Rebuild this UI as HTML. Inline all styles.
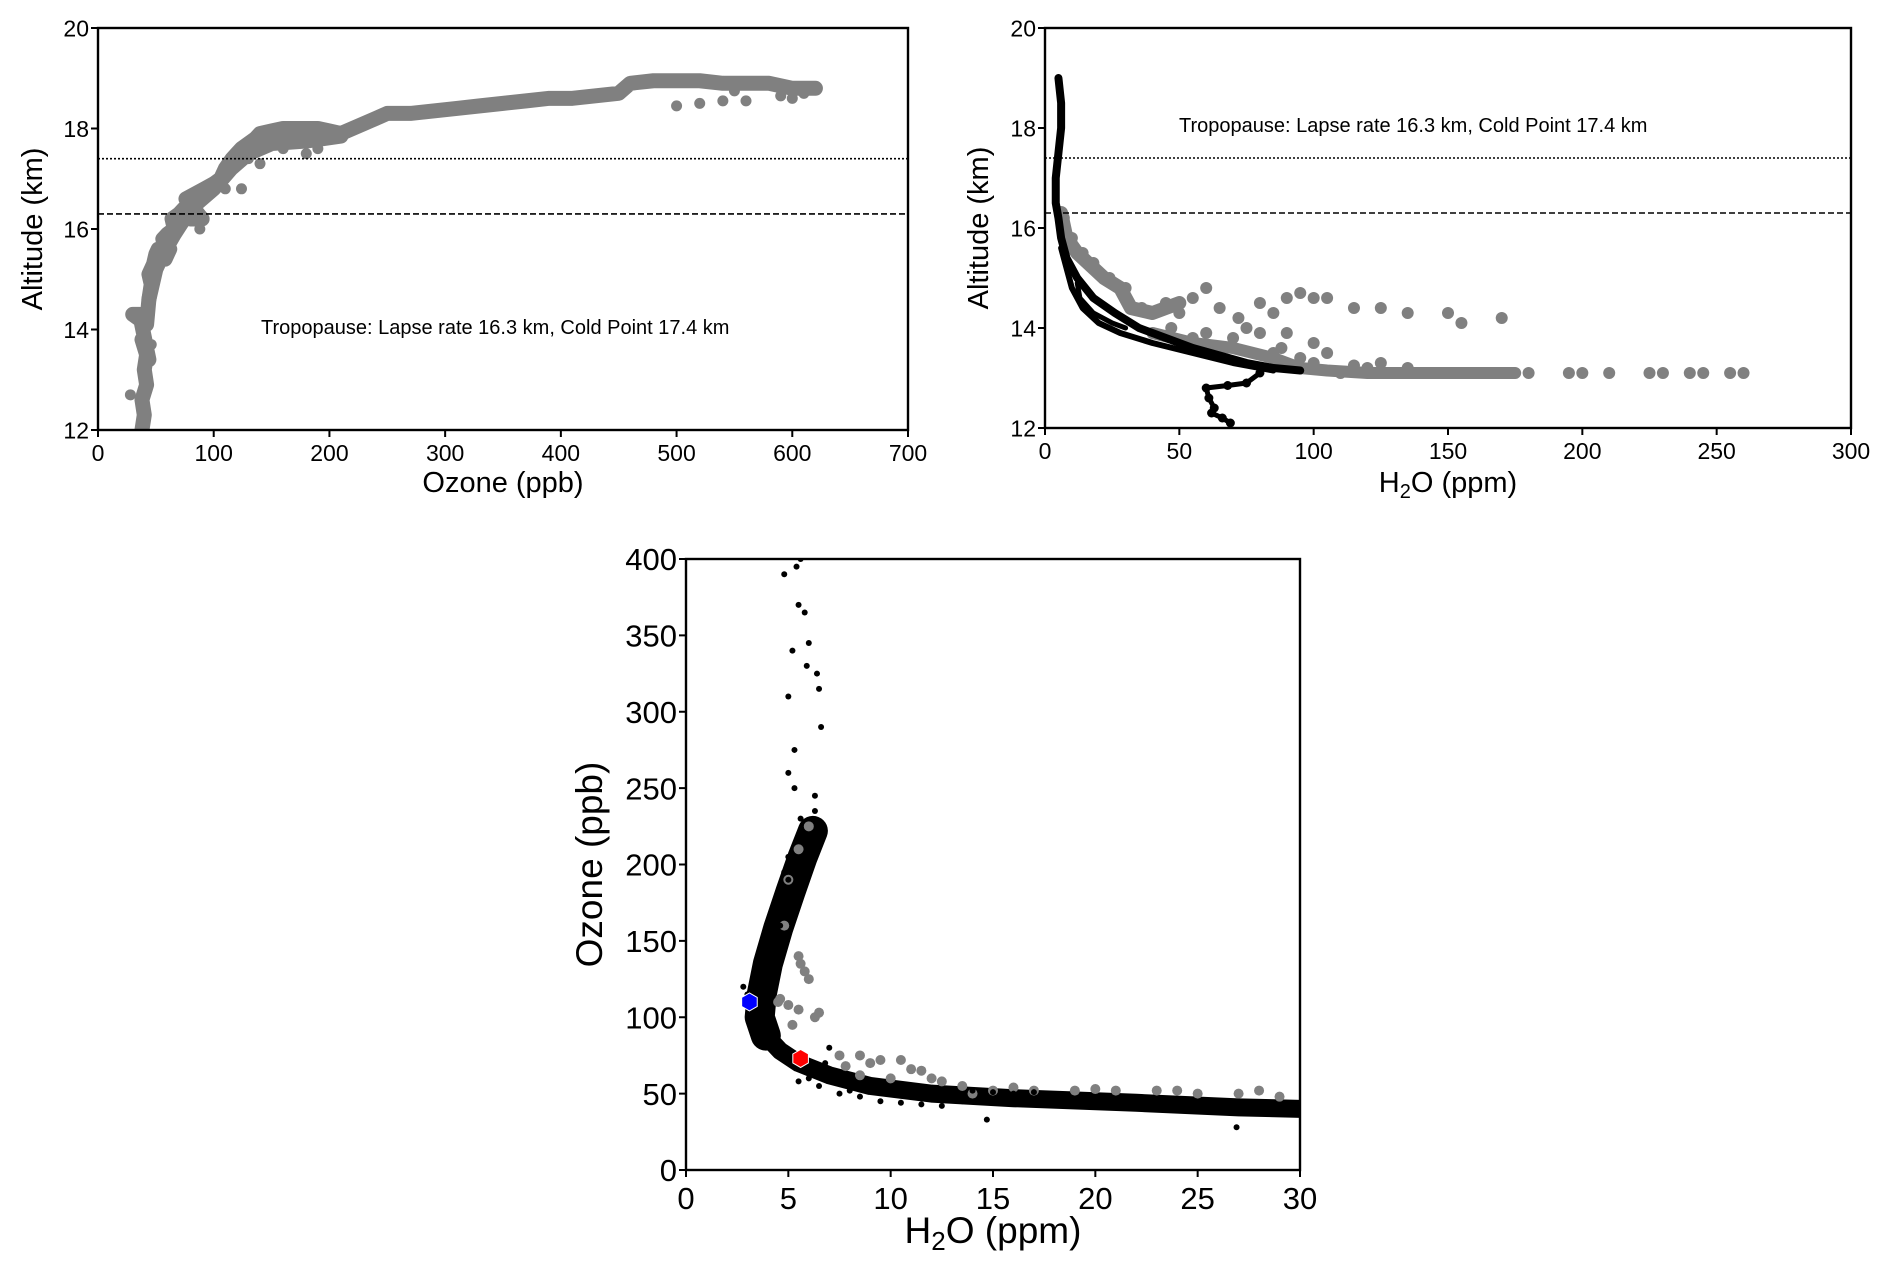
<!DOCTYPE html>
<html><head><meta charset="utf-8"><style>
html,body{margin:0;padding:0;background:#fff;}
svg{display:block;font-family:"Liberation Sans","DejaVu Sans",sans-serif;}
</style></head><body>
<svg id="fig" width="1892" height="1269" viewBox="0 0 1892 1269"></svg>
<script>
// ---- Panel 1 data: ozone (ppb) vs altitude (km)
const p1Ozone = [38,40,38,42,40,42,38,44,36,30,42,44,46,44,48,50,52,58,62,56,60,66,64,70,74,80,90,76,84,92,100,106,110,116,120,124,130,136,140,150,160,170,180,190,200,210,220,230,240,250,270,290,310,330,350,370,390,410,430,450,460,480,500,520,540,560,580,600,620];
const p1Alt   = [12.0,12.3,12.6,12.9,13.2,13.5,13.8,13.4,14.3,14.3,14.1,14.6,14.9,15.1,15.3,15.5,15.6,15.4,15.6,15.8,15.9,16.0,16.2,16.3,16.4,16.2,16.2,16.6,16.7,16.8,16.9,17.0,17.2,17.4,17.5,17.6,17.7,17.8,17.9,17.95,18.0,18.0,18.0,18.0,17.95,17.9,18.0,18.1,18.2,18.3,18.3,18.35,18.4,18.45,18.5,18.55,18.6,18.6,18.65,18.7,18.9,18.95,18.95,18.95,18.9,18.9,18.9,18.8,18.8];
const p1Band2Ozone = [44,50,56,66,80,100,115,130,150,180,210];
const p1Band2Alt   = [14.6,15.2,15.5,15.9,16.4,16.8,17.2,17.5,17.7,17.75,17.85];
const p1ExtraOzone = [500,520,540,560,590,610,130,160,190,140,110,124,88,28,46,200,180,600,610,550];
const p1ExtraAlt   = [18.45,18.5,18.55,18.55,18.65,18.7,17.4,17.6,17.6,17.3,16.8,16.8,16.0,12.7,13.7,17.8,17.5,18.6,18.75,18.75];
// ---- Panel 2 data: H2O (ppm) vs altitude (km)
const p2GrayH2O = [7,10,14,18,24,30,36,45,55,60,65,72,80,85,90,95,100,105,115,125,135,150,155,170,60,70,80,90,100,105,110,120,130,150,170,180,195,210,225,240,255,260,47,55,65,85,95,100,115,125,135,40,50,75,88,140,160,200,230,245];
const p2GrayAlt = [16.2,15.8,15.5,15.3,15.0,14.8,14.4,14.5,14.6,14.8,14.4,14.2,14.5,14.3,14.6,14.7,14.6,14.6,14.4,14.4,14.3,14.3,14.1,14.2,13.9,13.8,13.9,13.9,13.7,13.5,13.1,13.2,13.1,13.1,13.1,13.1,13.1,13.1,13.1,13.1,13.1,13.1,14.0,13.8,13.6,13.5,13.4,13.3,13.25,13.3,13.2,14.3,14.3,14.0,13.6,13.1,13.1,13.1,13.1,13.1];
const p2GrayBandH2O = [6,8,12,16,22,28,32,40,50];
const p2GrayBandAlt = [16.3,15.8,15.5,15.3,15.0,14.8,14.4,14.3,14.5];
const p2GrayBand2H2O = [40,55,70,85,95,105,120,150,175];
const p2GrayBand2Alt = [13.9,13.7,13.6,13.4,13.2,13.15,13.1,13.1,13.1];
const p2BlackH2O = [5,6,6,5,4,4,5,6,8,12,18,26,35,45,55,65,75,85,95];
const p2BlackAlt = [19.0,18.5,18.0,17.5,17.0,16.5,16.2,15.8,15.4,15.0,14.6,14.3,14.0,13.8,13.6,13.45,13.3,13.2,13.15];
const p2Black2H2O = [6,10,14,20,28,40,55,70,85];
const p2Black2Alt = [15.6,14.8,14.4,14.1,13.9,13.7,13.5,13.3,13.15];
const p2Black3H2O = [12,13,18,25,30];
const p2Black3Alt = [14.9,14.6,14.3,14.1,14.0];
const p2Black4H2O = [80,75,68,60,61,63,62,66,69];
const p2Black4Alt = [13.1,12.9,12.85,12.8,12.6,12.4,12.3,12.2,12.1];
// ---- Panel 3 data: H2O (ppm) vs ozone (ppb)
const p3BlackH2O = [5.6,5.4,4.8,5.5,5.8,5.2,6.0,5.9,6.4,5.0,6.5,6.6,5.3,5.0,5.3,6.3,6.3,5.6,6.4,5.8,6.2,5.0,5.5,4.8,5.2,4.5,4.9,4.2,4.6,4.0,3.8,4.3,3.6,3.3,3.9,3.4,3.6,4.0,4.3,4.8,5.2,5.6,6.2,6.8,7.4,6.0,5.5,6.5,7.5,8.5,9.5,10.5,11.5,12.5,13.5,14.5,15.5,16.5,17.5,18.5,19.5,20.5,21.5,22.5,23.5,24.5,25.5,26.5,27.5,28.5,29.5,30,8,9,10,11,12,13,14,15,16,17,18,20,22,24,26,28,14.7,26.9,2.8,3.0,4.6,5.0,7.0,7.3];
const p3BlackOz  = [400,395,390,370,365,340,345,330,325,310,315,290,275,260,250,245,235,230,225,215,210,205,200,195,185,180,170,165,160,150,140,130,125,115,110,100,95,88,82,78,72,68,66,70,63,60,58,55,50,48,45,44,43,42,45,48,50,47,45,44,43,44,45,43,42,41,40,39,38,39,40,38,52,54,52,50,50,51,52,51,50,51,48,46,45,44,42,41,33,28,120,115,175,190,80,60];
const p3BandUpH2O = [6.2,5.7,5.1,4.5,4.0,3.7,3.6,3.9];
const p3BandUpOz  = [222,205,182,158,135,115,100,88];
const p3BandLowH2O = [3.9,4.6,5.5,7,9,12,16,22,27,30];
const p3BandLowOz  = [88,78,70,62,55,50,47,44,41,40];
const p3GrayH2O = [6.0,5.5,5.0,4.8,5.5,5.8,4.5,5.5,6.5,5.2,7.5,8.5,9.5,10.5,11.5,12.5,13.5,15,17,19,21,23,25,27,29,8.5,10,14,5.6,6.0,5.0,4.6,6.3,7.8,9,11,12,16,20,24,28];
const p3GrayOz  = [225,210,190,160,140,130,110,105,103,95,75,75,72,72,65,58,55,52,52,52,52,52,50,50,48,62,60,50,135,125,108,112,100,68,70,66,60,54,53,52,52];
const p3Markers = [[3.1,110,'#0000ff'],[5.6,73,'#ff0000']];

const NS='http://www.w3.org/2000/svg';
const svg=document.getElementById('fig');
function el(tag,attrs,parent){const e=document.createElementNS(NS,tag);for(const k in attrs)e.setAttribute(k,attrs[k]);(parent||svg).appendChild(e);return e;}
function lin(d0,d1,r0,r1){return v=>r0+(v-d0)*(r1-r0)/(d1-d0);}

function axes(o){
  const g=el('g',{});
  
  
  const x=lin(o.xd[0],o.xd[1],o.L,o.R), y=lin(o.yd[0],o.yd[1],o.B,o.T);
  const clip=el('clipPath',{id:o.name+'-clip'},g);
  el('rect',{x:o.L,y:o.T,width:o.R-o.L,height:o.B-o.T},clip);
  const plot=el('g',{'clip-path':'url(#'+o.name+'-clip)'},g);
  
  
  return {g,x,y,plot,o};
}
function frame(A,xt,yt,fs,xlab,ylab,labfs,xlabY,ylabX){
  const {g,x,y,o}=A;
  const fr=el('rect',{x:o.L,y:o.T,width:o.R-o.L,height:o.B-o.T,fill:'none',stroke:'#000','stroke-width':2.4},g);
  
  
  xt.forEach(v=>{
    el('line',{x1:x(v),x2:x(v),y1:o.B,y2:o.B+7,stroke:'#000','stroke-width':2},g);
    const t=el('text',{x:x(v),y:o.B+fs+8,'font-size':fs,'text-anchor':'middle',fill:'#000'},g);
    t.textContent=v;
    
    
  });
  yt.forEach(v=>{
    el('line',{x1:o.L-7,x2:o.L,y1:y(v),y2:y(v),stroke:'#000','stroke-width':2},g);
    const t=el('text',{x:o.L-9,y:y(v)+fs*0.36,'font-size':fs,'text-anchor':'end',fill:'#000'},g);
    t.textContent=v;
    
    
  });
  const xl=el('text',{x:(o.L+o.R)/2,y:xlabY,'font-size':labfs,'text-anchor':'middle',fill:'#000'},g);
  xl.innerHTML=xlab;
  
  
  const yc=(o.T+o.B)/2;
  const yl=el('text',{x:ylabX,y:yc,'font-size':labfs,'text-anchor':'middle',fill:'#000',transform:`rotate(-90 ${ylabX} ${yc})`},g);
  yl.textContent=ylab;
  
  
}
function dots(A,xs,ys,r,col,name){
  xs.forEach((v,i)=>{
    const c=el('circle',{cx:A.x(v),cy:A.y(ys[i]),r:r,fill:col},A.plot);
    
    
  });
}
function band(A,xs,ys,w,col,name){
  const p=el('polyline',{points:xs.map((v,i)=>A.x(v)+','+A.y(ys[i])).join(' '),fill:'none',stroke:col,'stroke-width':w,'stroke-linejoin':'round','stroke-linecap':'round'},A.plot);
  
  
}
function hline(A,v,dash,w,name){
  const l=el('line',{x1:A.o.L,x2:A.o.R,y1:A.y(v),y2:A.y(v),stroke:'#000','stroke-width':w,'stroke-dasharray':dash},A.g);
  
  
}
function note(A,xp,yp,txt,fs){
  const t=el('text',{x:xp,y:yp,'font-size':fs,fill:'#000'},A.g);
  t.textContent=txt;
  
  
}

// Panel 1
const A1=axes({name:'ozone-altitude-panel',L:98,R:908,T:28,B:430,xd:[0,700],yd:[12,20]});
band(A1,p1Ozone,p1Alt,15,'#808080','ozone-profile-band');
band(A1,p1Band2Ozone,p1Band2Alt,15,'#808080','ozone-profile-band');
dots(A1,p1Ozone,p1Alt,7,'#808080','ozone-point');
dots(A1,p1ExtraOzone,p1ExtraAlt,5.5,'#808080','ozone-point');
hline(A1,17.4,'2 2',1.6,'cold-point-line');
hline(A1,16.3,'6 3',1.6,'lapse-rate-line');
frame(A1,[0,100,200,300,400,500,600,700],[12,14,16,18,20],23,'Ozone (ppb)','Altitude (km)',29,492,42);
note(A1,261,334,'Tropopause: Lapse rate 16.3 km, Cold Point 17.4 km',20);

// Panel 2
const A2=axes({name:'h2o-altitude-panel',L:1045,R:1851,T:28,B:428,xd:[0,300],yd:[12,20]});
band(A2,p2GrayBandH2O,p2GrayBandAlt,14,'#808080','h2o-gray-band');
band(A2,p2GrayBand2H2O,p2GrayBand2Alt,12,'#808080','h2o-gray-band');
dots(A2,p2GrayH2O,p2GrayAlt,6,'#808080','h2o-gray-point');
band(A2,p2BlackH2O,p2BlackAlt,8,'#000','h2o-black-band');
band(A2,p2Black2H2O,p2Black2Alt,6,'#000','h2o-black-band');
band(A2,p2Black3H2O,p2Black3Alt,5,'#000','h2o-black-band');
dots(A2,p2Black4H2O,p2Black4Alt,4.5,'#000','h2o-black-point');
band(A2,p2Black4H2O,p2Black4Alt,5,'#000','h2o-black-band');
hline(A2,17.4,'2 2',1.6,'cold-point-line');
hline(A2,16.3,'6 3',1.6,'lapse-rate-line');
frame(A2,[0,50,100,150,200,250,300],[12,14,16,18,20],23,'H<tspan font-size="20" dy="6">2</tspan><tspan dy="-6">O (ppm)</tspan>','Altitude (km)',29,492,988);
note(A2,1179,132,'Tropopause: Lapse rate 16.3 km, Cold Point 17.4 km',20);

// Panel 3
const A3=axes({name:'h2o-ozone-panel',L:686,R:1300,T:559,B:1170,xd:[0,30],yd:[0,400]});
band(A3,p3BandUpH2O,p3BandUpOz,30,'#000','h2o-ozone-band');
band(A3,p3BandLowH2O,p3BandLowOz,18,'#000','h2o-ozone-band');
dots(A3,p3GrayH2O,p3GrayOz,5,'#808080','h2o-ozone-gray-point');
dots(A3,p3BlackH2O,p3BlackOz,3,'#000','h2o-ozone-black-point');
p3Markers.forEach(m=>{
  const cx=A3.x(m[0]),cy=A3.y(m[1]),r=9;
  const pts=[0,1,2,3,4,5].map(k=>{const a=Math.PI/3*k+Math.PI/6;return (cx+r*Math.cos(a))+','+(cy+r*Math.sin(a));}).join(' ');
  const h=el('polygon',{points:pts,fill:m[2],stroke:'#fff','stroke-width':1},A3.plot);
  
  
});
frame(A3,[0,5,10,15,20,25,30],[0,50,100,150,200,250,300,350,400],31,'H<tspan font-size="26" dy="7">2</tspan><tspan dy="-7">O (ppm)</tspan>','Ozone (ppb)',37,1243,602);
</script>
</body></html>
